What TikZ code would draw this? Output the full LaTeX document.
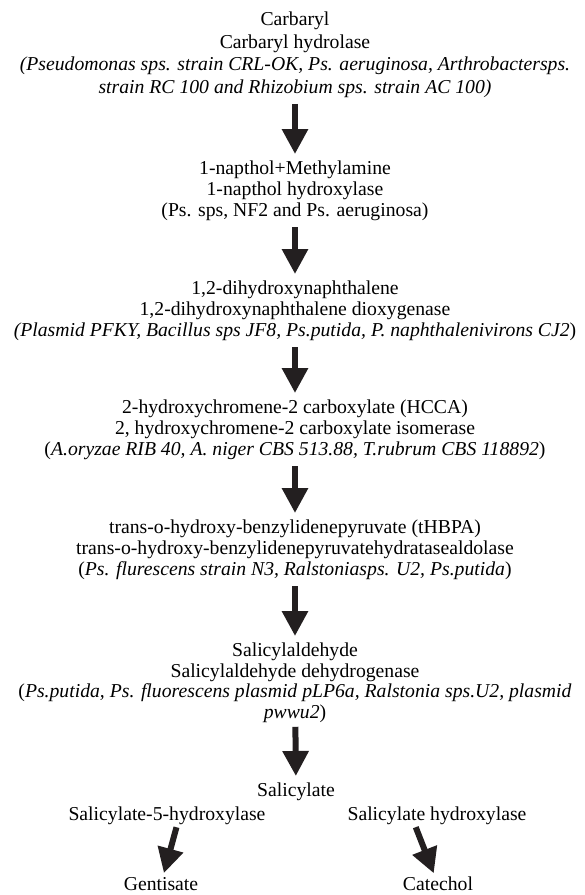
\documentclass[tikz,border=0pt]{standalone}
\usepackage{fontspec}
\setmainfont{Liberation Serif}
\usetikzlibrary{arrows.meta}
\definecolor{arrowink}{RGB}{35,31,32}
\tikzset{
  stage/.style={anchor=north,align=center,inner sep=0pt,font=\fontsize{19.7}{21}\selectfont},
  flow/.style={arrowink,line width=6pt,-{Triangle[width=25pt,length=25pt]},shorten <=6pt,shorten >=7pt}
}
\begin{document}
\begin{tikzpicture}[x=1pt,y=-1pt]
\fill[white] (0,0) rectangle (585,895);
\useasboundingbox (0,0) rectangle (585,895);
% pathway, top to bottom
\node[stage,font=\fontsize{19.7}{22.5}\selectfont] (carb) at (295,12) {Carbaryl\\Carbaryl hydrolase\\\textit{(Pseudomonas sps. strain CRL-OK, Ps. aeruginosa, Arthrobactersps.}\\\textit{strain RC 100 and Rhizobium sps. strain AC 100)}};
\node[stage] (nap) at (295,161) {1-napthol+Methylamine\\1-napthol hydroxylase\\(Ps. sps, NF2 and Ps. aeruginosa)};
\node[stage] (dhn) at (295,281) {1,2-dihydroxynaphthalene\\1,2-dihydroxynaphthalene dioxygenase\\\textit{(Plasmid PFKY, Bacillus sps JF8, Ps.putida, P. naphthalenivirons CJ2})};
\node[stage] (hcca) at (295,400) {2-hydroxychromene-2 carboxylate (HCCA)\\2, hydroxychromene-2 carboxylate isomerase\\(\textit{A.oryzae RIB 40, A. niger CBS 513.88, T.rubrum CBS 118892})};
\node[stage] (thbpa) at (295,520) {trans-o-hydroxy-benzylidenepyruvate (tHBPA)\\trans-o-hydroxy-benzylidenepyruvatehydratasealdolase\\(\textit{Ps. flurescens strain N3, Ralstoniasps. U2, Ps.putida})};
\node[stage,font=\fontsize{19.7}{20.5}\selectfont] (sald) at (295,643) {Salicylaldehyde\\Salicylaldehyde dehydrogenase\\(\textit{Ps.putida, Ps. fluorescens plasmid pLP6a, Ralstonia sps.U2, plasmid}\\\textit{pwwu2})};
\node[stage] (sal) at (296,783) {Salicylate};
% branches
\node[stage] (s5h) at (167,807) {Salicylate-5-hydroxylase};
\node[stage] (shy) at (437,807) {Salicylate hydroxylase};
\node[stage] (gen) at (161,877) {Gentisate};
\node[stage] (cat) at (438,877) {Catechol};
\draw[flow] (carb) -- (nap);
\draw[flow] (nap) -- (dhn);
\draw[flow] (dhn) -- (hcca);
\draw[flow] (hcca) -- (thbpa);
\draw[flow] (thbpa) -- (sald);
\draw[flow,shorten <=4pt] (sald) -- (sal);
\draw[flow,shorten <=2pt,shorten >=4pt] ([xshift=10pt]s5h.south) -- (gen);
\draw[flow,shorten <=2pt,shorten >=4pt] ([xshift=-22pt]shy.south) -- (cat);
\end{tikzpicture}
\end{document}
